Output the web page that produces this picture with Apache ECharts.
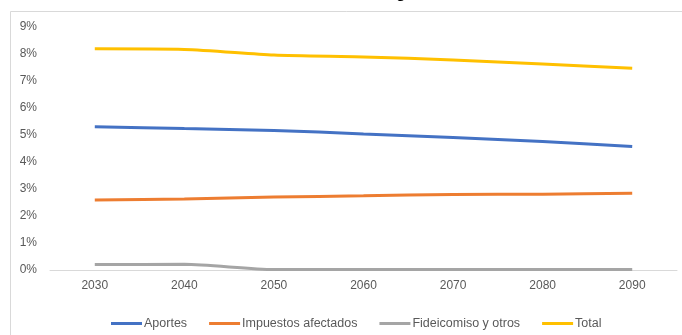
<!DOCTYPE html>
<html>
<head>
<meta charset="utf-8">
<script src="https://cdn.jsdelivr.net/npm/echarts@6/dist/echarts.min.js"></script>
<style>html,body{margin:0;padding:0;background:#fff}#c{width:682px;height:335px}</style>
</head>
<body>
<div id="c"></div>
<script>
const categories = ['2030','2040','2050','2060','2070','2080','2090'];
const aportes = [5.31, 5.24, 5.17, 5.04, 4.91, 4.76, 4.57];
const impuestos = [2.59, 2.63, 2.70, 2.75, 2.80, 2.81, 2.84];
const fideicomiso = [0.20, 0.21, 0.02, 0.02, 0.02, 0.02, 0.02];
const total = [8.19, 8.17, 7.96, 7.89, 7.78, 7.63, 7.47];
const seriesNames = ['Aportes','Impuestos afectados','Fideicomiso y otros','Total'];
const colors = ['#4472C4','#ED7D31','#A5A5A5','#FFC000'];

const chart = echarts.init(document.getElementById('c'), null, {renderer:'canvas'});
const font = 'Liberation Sans';
const mk = (name, data, i) => ({
  name, type:'line', data, smooth:0.25, symbol:'none',
  lineStyle:{width:3, color:colors[i]}, itemStyle:{color:colors[i]}, z: 2+i
});
chart.setOption({
  animation:false,
  backgroundColor:'#fff',
  graphic:[
    {type:'rect', shape:{x:10.5, y:11.5, width:700, height:400}, style:{fill:'none', stroke:'#d9d9d9', lineWidth:1}, z:-1},
    {type:'text', left:396, top:-14, style:{text:'g', font:'bold 16px "Liberation Sans"', fill:'#000'}}
  ],
  grid:{left:50, right:5, top:27, bottom:65},
  legend:{
    data:seriesNames, left:106, top:312, icon:'rect', itemWidth:31, itemHeight:3, itemGap:22,
    textStyle:{color:'#595959', fontSize:12.5, fontFamily:font, padding:[0,0,0,-3]}
  },
  xAxis:{
    type:'category', data:categories, boundaryGap:true,
    axisLine:{lineStyle:{color:'#d9d9d9', width:1}}, axisTick:{show:false},
    axisLabel:{color:'#595959', fontSize:12, fontFamily:font, margin:10}
  },
  yAxis:{
    type:'value', min:0, max:9, interval:1,
    axisLine:{show:false}, axisTick:{show:false}, splitLine:{show:false},
    axisLabel:{formatter:'{value}%', color:'#595959', fontSize:12, fontFamily:font, margin:13}
  },
  series:[mk(seriesNames[0],aportes,0), mk(seriesNames[1],impuestos,1), mk(seriesNames[2],fideicomiso,2), mk(seriesNames[3],total,3)]
});
</script>
</body>
</html>
